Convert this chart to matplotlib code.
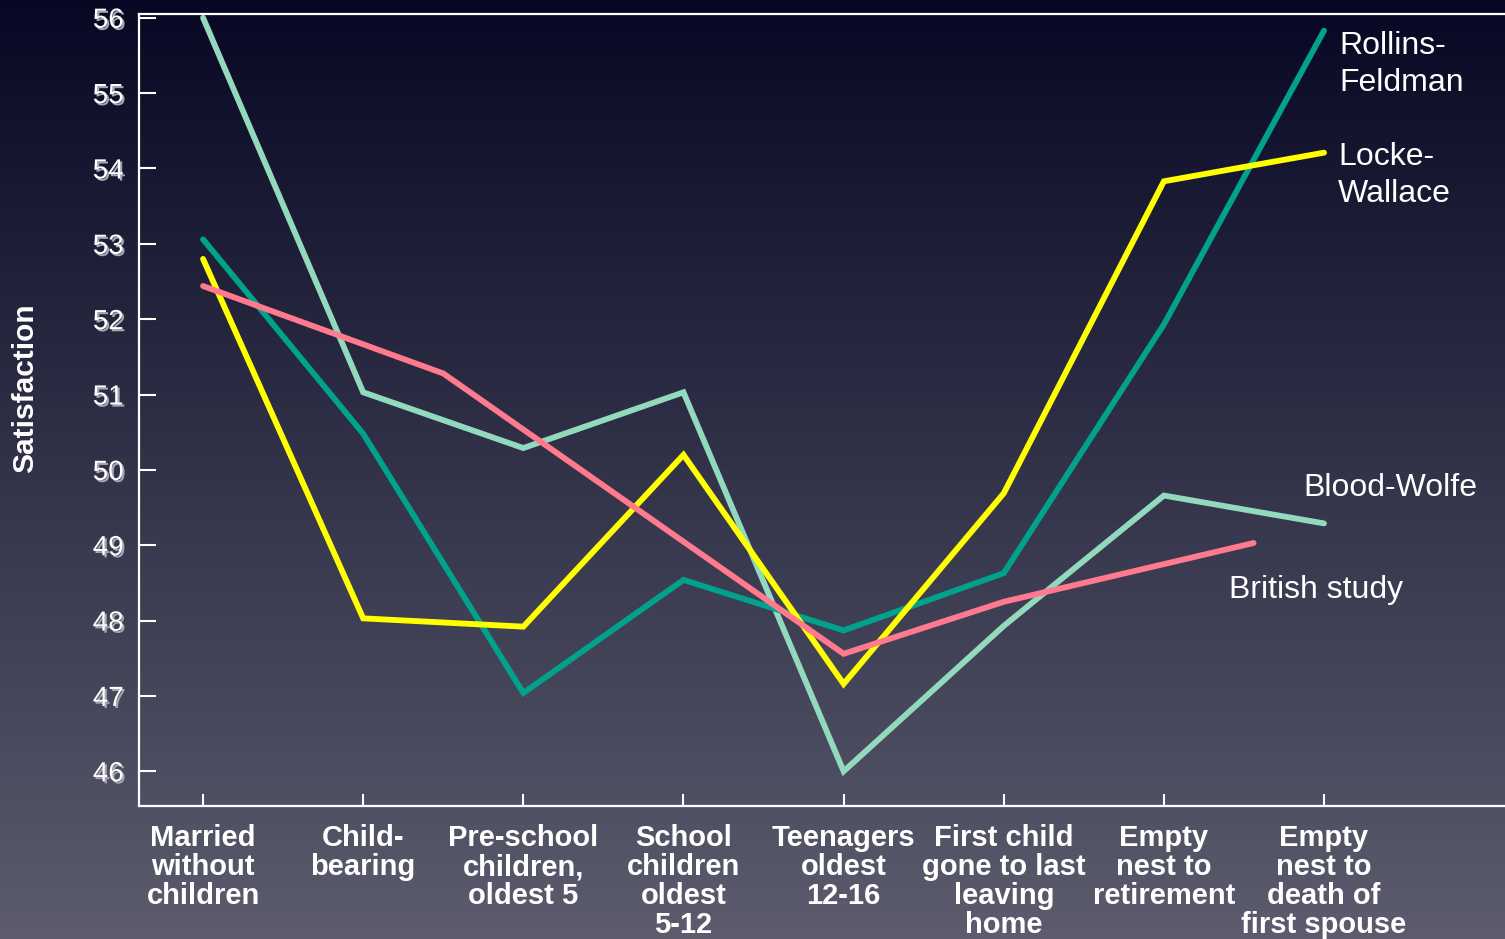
import numpy as np
import matplotlib
matplotlib.use("Agg")
import matplotlib.pyplot as plt
import matplotlib.patheffects as pe

plt.rcParams['font.family'] = ['Liberation Sans', 'DejaVu Sans']

# stages of the family life cycle
stages = ['Married\nwithout\nchildren', 'Child-\nbearing', 'Pre-school\nchildren,\noldest 5',
          'School\nchildren\noldest\n5-12', 'Teenagers\noldest\n12-16', 'First child\ngone to last\nleaving\nhome',
          'Empty\nnest to\nretirement', 'Empty\nnest to\ndeath of\nfirst spouse']
stage_x = list(range(len(stages)))

blood_wolfe = [56.0, 51.03, 50.29, 51.03, 46.0, 47.93, 49.66, 49.29]
rollins_feldman = [53.06, 50.48, 47.04, 48.54, 47.87, 48.63, 51.93, 55.83]
locke_wallace = [52.8, 48.03, 47.92, 50.2, 47.16, 49.69, 53.83, 54.21]
british_x = [0, 1.5, 4, 5, 6.56]
british = [52.44, 51.28, 47.56, 48.25, 49.03]

yticks = [46, 47, 48, 49, 50, 51, 52, 53, 54, 55, 56]

C_BW = '#92d9bd'
C_RF = '#00a28c'
C_LW = '#ffff00'
C_BR = '#ff7a8e'

fig = plt.figure(figsize=(15.05, 9.39), dpi=100)

# gradient background
bg = fig.add_axes([0, 0, 1, 1], zorder=0)
top = np.array([8, 8, 36]) / 255
bot = np.array([92, 92, 110]) / 255
t = np.linspace(0, 1, 256)[:, None]
grad = top[None, :] * (1 - t) + bot[None, :] * t
bg.imshow(grad[:, None, :], aspect='auto', extent=[0, 1, 0, 1])
bg.axis('off')

ax = fig.add_axes([139/1505, 1 - 806/939, 1 - 139/1505, (806 - 14)/939], zorder=1)
ax.set_facecolor('none')

kw = dict(lw=4.2, solid_capstyle='round', solid_joinstyle='miter')
ax.plot(stage_x, blood_wolfe, color=C_BW, **kw)
ax.plot(stage_x, rollins_feldman, color=C_RF, **kw)
ax.plot(stage_x, locke_wallace, color=C_LW, **kw)
ax.plot(british_x, british, color=C_BR, **kw)

ax.set_xlim(-0.40, 8.13)
ax.set_ylim(45.54, 56.05)

for s in ['left', 'bottom', 'top']:
    ax.spines[s].set_color('white')
    ax.spines[s].set_linewidth(1.6)
ax.spines['right'].set_visible(False)

ax.set_xticks(stage_x)
ax.set_xticklabels(stages, fontsize=21, fontweight='bold', color='white', linespacing=1.05)
ax.set_yticks(yticks)
ax.set_yticklabels([str(v) for v in yticks], fontsize=20, color='white')
ax.tick_params(axis='x', direction='in', length=9, width=1.5, color='white', pad=13)
ax.tick_params(axis='y', direction='in', length=12, width=1.5, color='white', pad=11)
for lbl in ax.get_yticklabels():
    lbl.set_path_effects([pe.withSimplePatchShadow(offset=(1.5, -1.5), shadow_rgbFace=(0.65, 0.65, 0.7), alpha=1.0)])

fig.text(25/1505, 1 - 388/939, 'Satisfaction', rotation=90, ha='center', va='center',
         fontsize=21.5, fontweight='bold', color='white')

lab = dict(textcoords='offset pixels', color='white', fontsize=23, va='center', ha='left', linespacing=1.3)
ax.annotate('Rollins-\nFeldman', xy=(stage_x[-1], rollins_feldman[-1]), xytext=(15, -34), **lab)
ax.annotate('Locke-\nWallace', xy=(stage_x[-1], locke_wallace[-1]), xytext=(14, -23), **lab)
ax.annotate('Blood-Wolfe', xy=(stage_x[-1], blood_wolfe[-1]), xytext=(-21, 35), **lab)
ax.annotate('British study', xy=(british_x[-1], british[-1]), xytext=(-25, -47), **lab)

fig.savefig('out.png', dpi=100)
